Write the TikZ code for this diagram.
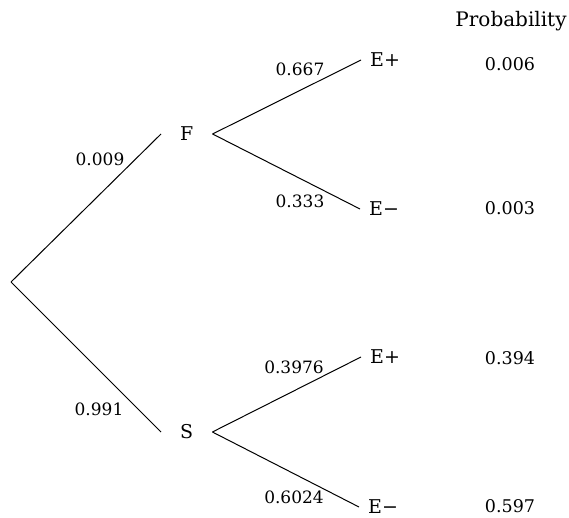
\documentclass[tikz,border=0pt]{standalone}
\usepackage{fontspec}
\setmainfont{DejaVu Serif}
\begin{document}
\begin{tikzpicture}[x=1pt,y=-1pt,
  br/.style={line width=1pt},
  lab/.style={font=\fontsize{17}{20}\selectfont, inner sep=0pt},
  state/.style={font=\fontsize{19}{22}\selectfont, inner ysep=0pt, anchor=west},
  prob/.style={font=\fontsize{17.5}{20}\selectfont, inner sep=0pt}]
\useasboundingbox (0,0) rectangle (569,518);
\coordinate (root) at (11,282);
\node[state, inner xsep=19pt] (F) at (161,134) {F};
\node[state, inner xsep=19pt] (S) at (161,432) {S};
\node[state, inner xsep=9pt] (FEp) at (361,60) {E+};
\node[state, inner xsep=9pt] (FEm) at (360,209) {E−};
\node[state, inner xsep=9pt] (SEp) at (361,357) {E+};
\node[state, inner xsep=9pt] (SEm) at (359,507) {E−};
\draw[br] (root) -- (F.west);
\draw[br] (root) -- (S.west);
\draw[br] (F.east) -- (FEp.west);
\draw[br] (F.east) -- (FEm.west);
\draw[br] (S.east) -- (SEp.west);
\draw[br] (S.east) -- (SEm.west);
\node[lab] (l1) at (100,159) {0.009};
\node[lab] (l2) at (99,409) {0.991};
\node[lab] (l3) at (300,69) {0.667};
\node[lab] (l4) at (300,201) {0.333};
\node[lab] (l5) at (294,367) {0.3976};
\node[lab] (l6) at (294,497) {0.6024};
\node[prob, font=\fontsize{20}{23}\selectfont] (ph) at (511,21) {Probability};
\node[prob] (p1) at (510,64) {0.006};
\node[prob] (p2) at (510,208) {0.003};
\node[prob] (p3) at (510,358) {0.394};
\node[prob] (p4) at (510,506) {0.597};
\end{tikzpicture}
\end{document}
